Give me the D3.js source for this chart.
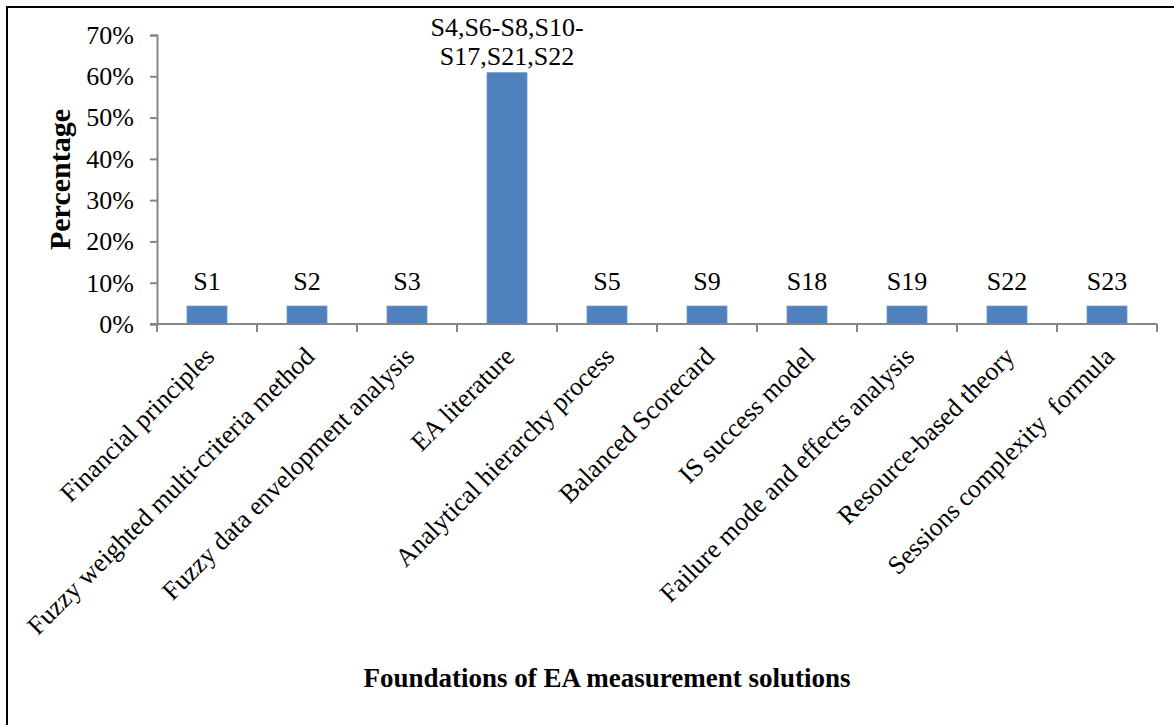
<!DOCTYPE html>
<html>
<head>
<meta charset="utf-8">
<script src="https://cdn.jsdelivr.net/npm/d3@7"></script>
<style>
  html, body { margin: 0; padding: 0; background: #fff; }
  svg { display: block; }
  text { font-family: "Liberation Serif", "Times New Roman", serif; fill: #000; }
</style>
</head>
<body>
<script>
// ---- data ----
const categories = [
  "Financial principles",
  "Fuzzy weighted multi-criteria method",
  "Fuzzy data envelopment analysis",
  "EA literature",
  "Analytical hierarchy process",
  "Balanced Scorecard",
  "IS success model",
  "Failure mode and effects analysis",
  "Resource-based theory",
  "Sessions complexity  formula"
];
const values = [0.0435, 0.0435, 0.0435, 0.6087, 0.0435, 0.0435, 0.0435, 0.0435, 0.0435, 0.0435];
const barLabels = [["S1"], ["S2"], ["S3"], ["S4,S6-S8,S10-", "S17,S21,S22"], ["S5"], ["S9"], ["S18"], ["S19"], ["S22"], ["S23"]];
const yTicks = [0, 0.1, 0.2, 0.3, 0.4, 0.5, 0.6, 0.7];
const yTitle = "Percentage";
const xTitle = "Foundations of EA measurement solutions";

// ---- layout ----
const W = 1174, H = 725;
const mLeft = 157, mRight = 1157, mTop = 35, mBottom = 324;
const FS = 26;
const FONT = '"Liberation Serif", "Times New Roman", serif';

const svg = d3.select("body").append("svg").attr("width", W).attr("height", H);

// frame (only top & left visible in reference)
svg.append("line").attr("x1", 7).attr("x2", W).attr("y1", 7).attr("y2", 7)
  .attr("stroke", "#000").attr("stroke-width", 2);
svg.append("line").attr("x1", 7).attr("x2", 7).attr("y1", 6).attr("y2", H)
  .attr("stroke", "#000").attr("stroke-width", 2);

const x = d3.scaleBand().domain(categories).range([mLeft, mRight]).paddingInner(0.6).paddingOuter(0.3);
const y = d3.scaleLinear().domain([0, 0.7]).range([mBottom, mTop]);

// bars
svg.append("g").selectAll("rect").data(values).join("rect")
  .attr("x", (d, i) => x(categories[i]))
  .attr("width", x.bandwidth())
  .attr("y", d => y(d))
  .attr("height", d => y(0) - y(d))
  .attr("fill", "#4F81BD")
  .attr("stroke", "#6F97CC").attr("stroke-width", 0.8);

// y axis
const yAxis = svg.append("g").attr("transform", `translate(${mLeft},0)`)
  .call(d3.axisLeft(y).tickValues(yTicks).tickFormat(d3.format(".0%")).tickSize(7).tickPadding(16));
yAxis.attr("font-family", FONT);
yAxis.select(".domain").attr("stroke", "#868686").attr("stroke-width", 2);
yAxis.selectAll(".tick line").attr("stroke", "#868686").attr("stroke-width", 2);
yAxis.selectAll(".tick text").attr("font-size", FS).attr("font-family", FONT).attr("fill", "#000");

// x axis line with ticks at category boundaries
const bounds = d3.range(categories.length + 1).map(i => mLeft + i * (mRight - mLeft) / categories.length);
svg.append("line").attr("x1", mLeft - 7).attr("x2", mRight).attr("y1", mBottom).attr("y2", mBottom)
  .attr("stroke", "#868686").attr("stroke-width", 2);
svg.append("g").selectAll("line").data(bounds).join("line")
  .attr("x1", d => d).attr("x2", d => d).attr("y1", mBottom).attr("y2", mBottom + 8)
  .attr("stroke", "#868686").attr("stroke-width", 2);

// x tick labels rotated
svg.append("g").selectAll("text").data(categories).join("text")
  .attr("transform", d => `translate(${x(d) + x.bandwidth() / 2 + 9},${mBottom + 34}) rotate(-45)`)
  .attr("text-anchor", "end")
  .attr("font-family", FONT)
  .attr("font-size", FS)
  .attr("xml:space", "preserve")
  .style("white-space", "pre")
  .text(d => d);

// bar labels
const lblG = svg.append("g");
values.forEach((v, i) => {
  const lines = barLabels[i];
  const cx = x(categories[i]) + x.bandwidth() / 2;
  const lh = 28.5;
  const gap = lines.length > 1 ? 8 : 16;
  const base = y(v) - gap;
  lines.forEach((t, j) => {
    lblG.append("text")
      .attr("x", cx)
      .attr("y", base - (lines.length - 1 - j) * lh)
      .attr("text-anchor", "middle")
      .attr("font-family", FONT)
      .attr("font-size", FS)
      .text(t);
  });
});

// axis titles
svg.append("text")
  .attr("transform", `translate(70,${(mTop + mBottom) / 2}) rotate(-90)`)
  .attr("text-anchor", "middle")
  .attr("font-family", FONT)
  .attr("font-size", 30).attr("font-weight", "bold")
  .text(yTitle);

svg.append("text")
  .attr("x", 607).attr("y", 687)
  .attr("text-anchor", "middle")
  .attr("font-family", FONT)
  .attr("font-size", 27).attr("font-weight", "bold")
  .text(xTitle);
</script>
</body>
</html>
